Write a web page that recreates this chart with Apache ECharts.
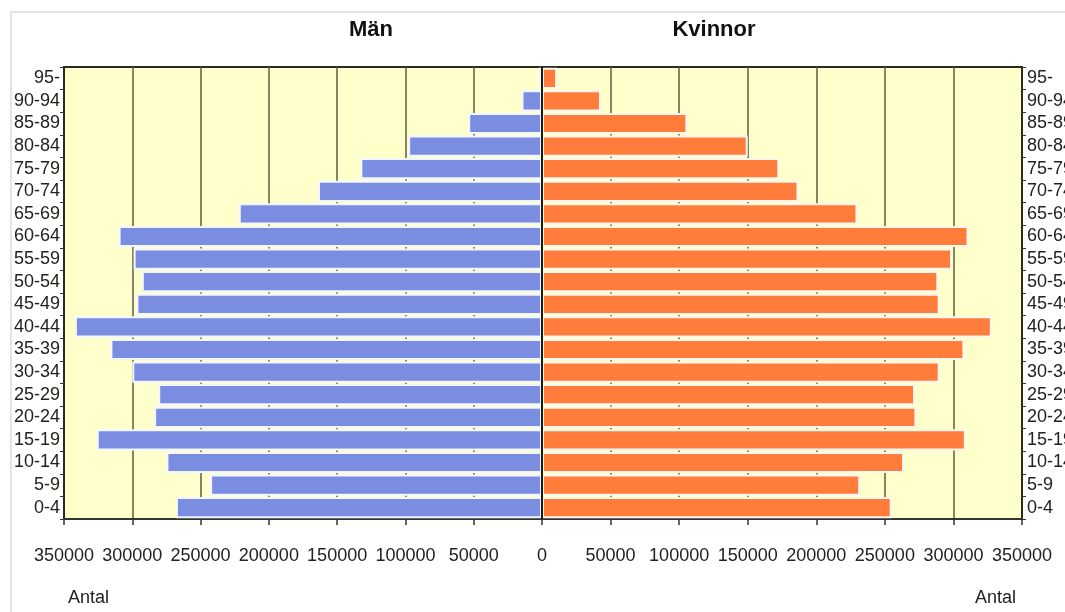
<!DOCTYPE html>
<html>
<head>
<meta charset="utf-8">
<script src="https://cdn.jsdelivr.net/npm/echarts@6/dist/echarts.min.js"></script>
<style>
html,body{margin:0;padding:0;background:#fff;}
#chart{width:1065px;height:612px;}
</style>
</head>
<body>
<div id="chart"></div>
<script>
const ageGroups = ['0-4','5-9','10-14','15-19','20-24','25-29','30-34','35-39','40-44','45-49','50-54','55-59','60-64','65-69','70-74','75-79','80-84','85-89','90-94','95-'];
const men   = [268000,243000,275000,326000,284000,281000,300000,316000,342000,297000,293000,299000,310000,222000,164000,133000,98000,54000,15000,2500];
const women = [255000,232000,264000,309000,273000,272000,290000,308000,328000,290000,289000,299000,311000,230000,187000,173000,150000,106000,43000,11000];
const titles = ['Män','Kvinnor'];
const axisName = 'Antal';

const FONT = "'Liberation Sans',Arial,sans-serif";
const chart = echarts.init(document.getElementById('chart'));

const gridStyle = {show:true, backgroundColor:'#ffffcc', borderColor:'#2a2a1e', borderWidth:2, containLabel:false, outerBoundsMode:'none'};
const xCommon = {
  type:'value', min:0, max:350000, interval:50000,
  axisLine:{show:true, onZero:false, lineStyle:{color:'#333', width:2}},
  axisTick:{show:true, inside:false, length:6, lineStyle:{color:'#333', width:1.5}},
  splitLine:{show:true, lineStyle:{color:'#5c5c40', width:1.5}},
  axisLabel:{color:'#222', fontFamily:FONT, fontSize:18, margin:28, showMinLabel:true, showMaxLabel:true, hideOverlap:false}
};
const yCommon = {
  type:'category', data:ageGroups,
  axisLine:{show:true, onZero:false, lineStyle:{color:'#2a2a1e', width:2}},
  axisTick:{show:true, length:4, lineStyle:{color:'#333'}},
  splitLine:{show:false},
  axisLabel:{color:'#222', fontFamily:FONT, fontSize:18, interval:0}
};

chart.setOption({
  animation:false,
  backgroundColor:'#ffffff',
  title: titles.map((t,i)=>({
    text:t, left:[366,709][i], top:14, textAlign:'center',
    textStyle:{fontFamily:FONT, fontWeight:'bold', fontSize:22, color:'#111'}
  })),
  graphic:[
    {type:'rect', z:-10, shape:{x:11, y:12, width:1200, height:700}, style:{fill:'#ffffff', stroke:'#dcdcdc', lineWidth:1.5}},
    {type:'line', z:100, shape:{x1:542, y1:67, x2:542, y2:519}, style:{stroke:'#1a1a12', lineWidth:2}},
    {type:'text', x:68, y:589, style:{text:axisName, font:"18px "+FONT, fill:'#222'}},
    {type:'text', x:975, y:589, style:{text:axisName, font:"18px "+FONT, fill:'#222'}}
  ],
  grid:[
    Object.assign({left:64, right:523, top:67, bottom:93}, gridStyle),
    Object.assign({left:542, right:43, top:67, bottom:93}, gridStyle)
  ],
  xAxis:[
    Object.assign({}, xCommon, {gridIndex:0, inverse:true,
      axisLabel:Object.assign({}, xCommon.axisLabel, {formatter:v=> v===0 ? '' : String(v)})}),
    Object.assign({}, xCommon, {gridIndex:1,
      axisLabel:Object.assign({}, xCommon.axisLabel, {formatter:v=> String(v)})})
  ],
  yAxis:[
    Object.assign({}, yCommon, {gridIndex:0, position:'left', axisLabel:Object.assign({}, yCommon.axisLabel, {margin:4})}),
    Object.assign({}, yCommon, {gridIndex:1, position:'right', axisLabel:Object.assign({}, yCommon.axisLabel, {margin:5})})
  ],
  series:[
    {name:'Män', type:'bar', xAxisIndex:0, yAxisIndex:0, data:men, barCategoryGap:'6%',
     itemStyle:{color:'#7a8de0', borderColor:'#f2f6ff', borderWidth:2}},
    {name:'Kvinnor', type:'bar', xAxisIndex:1, yAxisIndex:1, data:women, barCategoryGap:'6%',
     itemStyle:{color:'#ff7c3a', borderColor:'#fff6ee', borderWidth:2}}
  ]
});
</script>
</body>
</html>
